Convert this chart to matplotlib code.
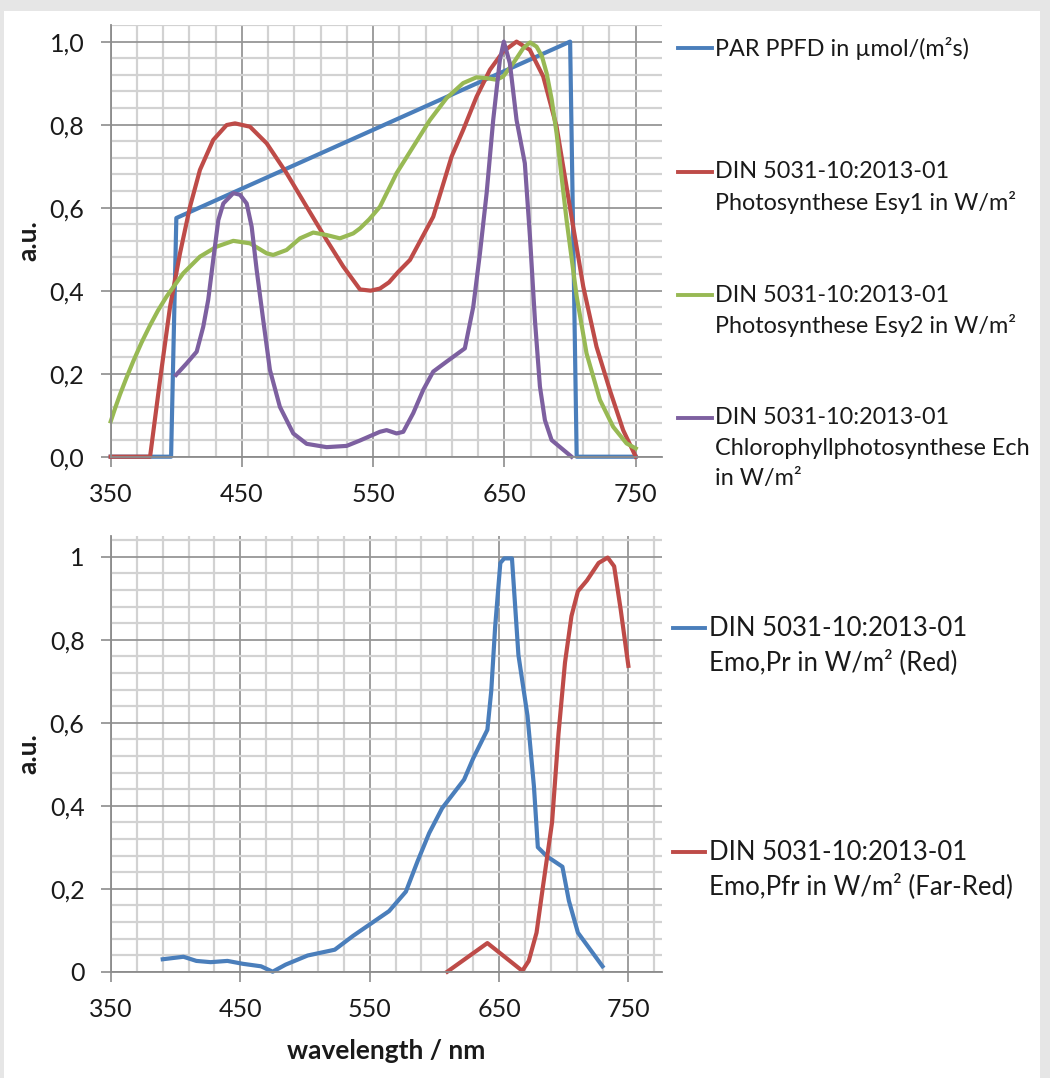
import matplotlib
matplotlib.use("Agg")
import matplotlib.pyplot as plt
from matplotlib.lines import Line2D
from matplotlib.patches import Rectangle
from matplotlib.ticker import FixedLocator, FuncFormatter

plt.rcParams['font.family'] = ['Lato', 'DejaVu Sans']

# ---- top chart: photosynthesis action spectra ----
par_x = [350, 396, 400, 700, 705, 750]
par_y = [0.0, 0.0, 0.575, 1.0, 0.0, 0.0]

esy1_x = [350, 380, 387.6, 395.2, 402.8, 410.4, 418, 428.1, 438.3, 444.7, 456.1, 468.8,
          484, 499.3, 514.5, 527.2, 539.9, 548, 555.1, 562, 569, 578, 595.7, 609.7, 618.5,
          628.7, 638.9, 649, 659.2, 669.3, 679.5, 689.7, 699.8, 710, 720.1, 730.3, 740.4, 750]
esy1_y = [0.0, 0.0, 0.185, 0.361, 0.49, 0.602, 0.691, 0.763, 0.799, 0.803, 0.795, 0.755,
          0.683, 0.602, 0.522, 0.458, 0.403, 0.40, 0.405, 0.42, 0.445, 0.474, 0.578, 0.723, 0.787,
          0.867, 0.932, 0.976, 1.0, 0.98, 0.916, 0.795, 0.602, 0.41, 0.265, 0.16, 0.064, 0.0]

esy2_x = [350, 353.5, 357.1, 362, 367.2, 373.5, 379.9, 386, 392.6, 405.3, 418, 430.7, 443.4,
          456.1, 468.8, 473.8, 484, 494.2, 504.3, 514.5, 524.6, 534.8, 539.9, 547, 555.1, 567.8,
          580.5, 593.2, 605.9, 618.5, 628.7, 636.4, 644, 649, 656.7, 664.3, 669.4, 674.4, 678.5,
          682.1, 686, 689.7, 697.3, 705, 712.5, 722.7, 732.8, 743, 750]
esy2_y = [0.085, 0.118, 0.15, 0.19, 0.23, 0.275, 0.316, 0.352, 0.386, 0.442, 0.482, 0.506,
          0.52, 0.514, 0.49, 0.486, 0.498, 0.526, 0.54, 0.534, 0.526, 0.538, 0.55, 0.572, 0.602,
          0.683, 0.747, 0.811, 0.864, 0.9, 0.914, 0.912, 0.908, 0.916, 0.948, 0.984, 0.998, 0.988,
          0.965, 0.924, 0.86, 0.779, 0.57, 0.386, 0.249, 0.137, 0.072, 0.032, 0.02]

ech_x = [399.8, 407.9, 415.5, 420.5, 424.3, 428.1, 432, 435.8, 443.4, 448.5, 453.6, 457.4,
         461.2, 466.2, 471.3, 478.9, 489.1, 499.3, 514.5, 529.7, 539.9, 555.1, 560.2, 567.8,
         572.9, 580.5, 588.1, 595.7, 605.9, 619.8, 626.2, 631.3, 636.4, 641.4, 646.5, 649.5,
         654.1, 659.2, 665.5, 669.4, 673.2, 677, 680.8, 685.9, 693.5, 701.1]
ech_y = [0.197, 0.225, 0.253, 0.313, 0.378, 0.474, 0.57, 0.61, 0.635, 0.631, 0.61, 0.554,
         0.45, 0.329, 0.209, 0.12, 0.056, 0.031, 0.023, 0.026, 0.039, 0.06, 0.064, 0.056,
         0.06, 0.105, 0.161, 0.205, 0.229, 0.261, 0.361, 0.49, 0.635, 0.811, 0.956, 1.0,
         0.948, 0.811, 0.707, 0.53, 0.329, 0.169, 0.088, 0.04, 0.02, 0.0]

# ---- bottom chart: phytochrome spectra ----
pr_x = [390, 406, 416, 427, 440, 452, 466, 475, 485, 502, 523, 537, 551, 565, 578, 587, 596,
        606, 623, 630, 641, 644, 647, 651, 654, 660, 665, 672, 677, 680, 687, 699, 704, 711, 730]
pr_y = [0.030, 0.036, 0.026, 0.023, 0.026, 0.019, 0.013, 0.0, 0.017, 0.039, 0.053, 0.086,
        0.116, 0.146, 0.193, 0.266, 0.334, 0.394, 0.463, 0.514, 0.583, 0.677, 0.831, 0.985,
        0.996, 0.996, 0.763, 0.617, 0.446, 0.30, 0.278, 0.253, 0.171, 0.094, 0.013]

pfr_x = [610, 641, 668, 673, 679, 684, 691, 696, 701, 706, 711, 718, 727, 734, 739, 744, 750]
pfr_y = [0.0, 0.069, 0.002, 0.026, 0.094, 0.206, 0.36, 0.574, 0.745, 0.857, 0.917, 0.943,
         0.985, 0.998, 0.977, 0.874, 0.737]

top_labels = ["PAR PPFD in µmol/(m²s)",
              "DIN 5031-10:2013-01\nPhotosynthese Esy1 in W/m²",
              "DIN 5031-10:2013-01\nPhotosynthese Esy2 in W/m²",
              "DIN 5031-10:2013-01\nChlorophyllphotosynthese Ech\nin W/m²"]
bottom_labels = ["DIN 5031-10:2013-01\nEmo,Pr in W/m² (Red)",
                 "DIN 5031-10:2013-01\nEmo,Pfr in W/m² (Far-Red)"]

BLUE, RED, GREEN, PURPLE = "#4A7EBB", "#BE4B48", "#98B954", "#7D60A0"
TXT = "#1a1a1a"

W, H = 1050, 1078
fig = plt.figure(figsize=(W / 100, H / 100), dpi=100)
fig.patch.set_facecolor("#e6e6e6")
fig.add_artist(Rectangle((4 / W, 0), (1040 - 4) / W, (H - 11) / H,
                         transform=fig.transFigure, facecolor="white", edgecolor="none", zorder=-10))


def px_axes(left, right, top, bottom):
    return fig.add_axes([left / W, 1 - bottom / H, (right - left) / W, (bottom - top) / H])


def style(ax, xmax, ymax, fmt):
    ax.set_facecolor("none")
    ax.set_xlim(350, xmax)
    ax.set_ylim(0, ymax)
    ax.xaxis.set_major_locator(FixedLocator([350, 450, 550, 650, 750]))
    ax.xaxis.set_minor_locator(FixedLocator(list(range(370, 771, 20))))
    ax.yaxis.set_major_locator(FixedLocator([0, 0.2, 0.4, 0.6, 0.8, 1.0]))
    ax.yaxis.set_minor_locator(FixedLocator([i * 0.04 for i in range(1, 27)]))
    ax.yaxis.set_major_formatter(FuncFormatter(fmt))
    ax.grid(which="minor", color="#d2d2d2", lw=1.6)
    ax.grid(which="major", color="#969696", lw=1.3)
    ax.set_axisbelow(True)
    for s in ("top", "right"):
        ax.spines[s].set_visible(False)
    for s in ("left", "bottom"):
        ax.spines[s].set_color("#8c8c8c")
        ax.spines[s].set_linewidth(1.3)
    ax.tick_params(which="major", length=7, width=1.2, color="#8c8c8c", pad=12,
                   labelsize=18, labelcolor=TXT)
    ax.tick_params(which="minor", length=0)
    ax.set_ylabel("a.u.", fontsize=19, fontweight="bold", color=TXT)
    ax.yaxis.set_label_coords(-0.128, 0.5)


def legend_entry(x0, x1, xt, y, color, text, size, spacing):
    fig.add_artist(Line2D([x0 / W, x1 / W], [1 - y / H, 1 - y / H], transform=fig.transFigure,
                          color=color, lw=2.8))
    for i, line in enumerate(text.split("\n")):
        fig.text(xt / W, 1 - (y + i * spacing) / H, line, fontsize=size, color=TXT,
                 va="center", ha="left")


# top axes
ax1 = px_axes(110.7, 662, 25, 456.7)
style(ax1, 770, 1.04, lambda v, p: f"{v:.1f}".replace(".", ","))
ax1.xaxis.set_minor_locator(FixedLocator(list(range(370, 751, 20))))
lw = 3
ax1.plot(par_x, par_y, color=BLUE, lw=lw, solid_joinstyle="round", clip_on=False)
ax1.plot(esy1_x, esy1_y, color=RED, lw=lw, solid_joinstyle="round", clip_on=False)
ax1.plot(esy2_x, esy2_y, color=GREEN, lw=lw, solid_joinstyle="round", clip_on=False)
ax1.plot(ech_x, ech_y, color=PURPLE, lw=lw, solid_joinstyle="round", clip_on=False)

# bottom axes
ax2 = px_axes(111, 662, 536, 971.7)
style(ax2, 776, 1.05, lambda v, p: "0" if v == 0 else ("1" if v == 1 else f"{v:.1f}".replace(".", ",")))
ax2.plot(pr_x, pr_y, color=BLUE, lw=lw, solid_joinstyle="round", clip_on=False)
ax2.plot(pfr_x, pfr_y, color=RED, lw=lw, solid_joinstyle="round", clip_on=False)
ax2.set_xlabel("wavelength / nm", fontsize=19, fontweight="bold", color=TXT)
ax2.xaxis.set_label_coords(0.5, -0.155)

# legends
for y, c, t in zip([48, 172, 295, 418], [BLUE, RED, GREEN, PURPLE], top_labels):
    legend_entry(678, 712, 715, y, c, t, 16.8, 30.5)
for y, c, t in zip([628, 852], [BLUE, RED], bottom_labels):
    legend_entry(673, 705, 709, y, c, t, 18.5, 34.5)

fig.savefig("out.png", dpi=100, facecolor=fig.get_facecolor())
